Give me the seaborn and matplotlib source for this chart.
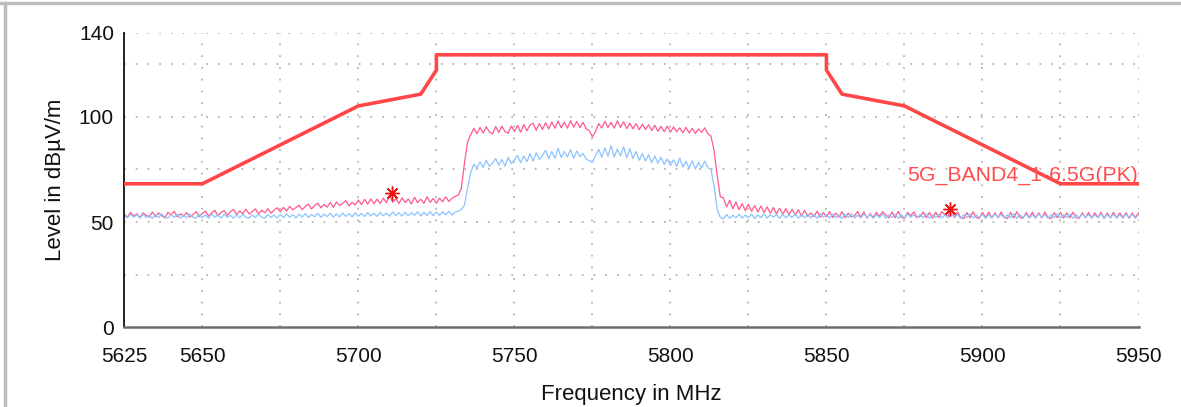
import numpy as np
import pandas as pd
import matplotlib
matplotlib.use("Agg")
import matplotlib.pyplot as plt
import seaborn as sns
from matplotlib.lines import Line2D

sns.set_theme(style="white")
plt.rcParams['font.family'] = ['Liberation Sans', 'DejaVu Sans']

# ---------------- data ----------------
freq_start = 5625
freq_step = 1  # MHz

pk_level = [
    53.8, 52.3, 54.6, 52.9, 53.9, 52.1, 54.4, 53.2, 52.4, 54.8,
    52.6, 54.3, 53.0, 52.0, 54.7, 53.4, 55.1, 52.5, 53.9, 52.8,
    54.5, 52.4, 53.6, 55.0, 52.6, 54.1, 55.2, 52.9, 54.4, 55.6,
    53.0, 54.6, 55.4, 53.2, 54.9, 56.0, 53.5, 55.3, 54.0, 56.2,
    53.8, 55.0, 56.3, 53.9, 55.6, 54.5, 56.4, 54.2, 55.7, 56.8,
    54.9, 57.0, 55.3, 57.5, 55.8, 56.9, 58.0, 55.9, 57.4, 58.6,
    56.2, 57.9, 59.0, 56.8, 58.4, 57.1, 59.3, 57.0, 59.6, 57.8,
    59.0, 60.2, 57.6, 59.4, 58.1, 60.5, 58.3, 60.8, 58.6, 61.0,
    58.7, 60.9, 58.9, 61.4, 59.2, 63.0, 59.4, 61.2, 58.8, 61.5,
    59.3, 61.0, 58.6, 61.8, 59.2, 60.9, 58.9, 62.0, 59.4, 61.2,
    59.0, 61.4, 59.6, 62.0, 59.8, 61.3, 62.2, 62.8, 66.0, 78.0,
    88.0, 91.5, 94.5, 92.0, 95.0, 92.3, 95.3, 92.8, 91.9, 95.4,
    92.6, 95.6, 93.0, 92.2, 95.7, 93.1, 96.0, 92.7, 96.4, 93.4,
    96.1, 97.0, 93.6, 96.8, 94.0, 97.2, 94.2, 97.6, 94.6, 98.0,
    94.8, 97.5, 94.6, 98.2, 95.1, 97.8, 94.9, 97.4, 94.3, 93.5,
    90.5, 93.0, 96.8, 94.7, 97.9, 95.0, 97.4, 94.6, 98.1, 95.0,
    97.6, 94.4, 97.0, 94.3, 96.8, 93.9, 96.5, 94.0, 96.2, 93.5,
    96.0, 93.2, 95.5, 93.0, 95.6, 92.7, 95.2, 92.9, 94.8, 92.4,
    95.0, 92.3, 94.6, 92.1, 94.3, 92.6, 94.8, 92.0, 90.8, 84.0,
    72.0, 62.0, 61.5, 57.2, 60.4, 56.3, 59.6, 55.9, 58.8, 55.4,
    58.5, 55.1, 57.9, 54.8, 57.6, 54.5, 57.2, 54.2, 56.9, 53.9,
    56.6, 53.7, 56.4, 53.5, 56.1, 53.2, 55.9, 52.8, 55.6, 52.7,
    54.4, 52.6, 55.2, 52.3, 54.5, 52.5, 55.0, 52.2, 54.3, 52.4,
    54.9, 52.1, 54.2, 52.5, 53.0, 55.1, 52.3, 54.8, 51.9, 54.0,
    52.2, 54.7, 52.8, 54.9, 53.4, 52.0, 54.8, 52.1, 55.1, 52.3,
    51.8, 54.6, 53.0, 54.9, 52.2, 52.7, 54.8, 52.1, 54.5, 51.9,
    54.7, 52.2, 55.0, 53.4, 52.8, 57.0, 52.0, 54.8, 52.2, 51.7,
    54.5, 52.0, 54.9, 52.2, 51.8, 54.6, 52.1, 54.7, 51.9, 54.4,
    52.0, 54.8, 52.2, 51.7, 54.6, 52.0, 54.9, 52.3, 51.8, 54.5,
    52.1, 54.7, 51.9, 54.4, 52.0, 54.8, 52.2, 51.7, 54.5, 52.1,
    54.6, 51.9, 54.4, 52.0, 54.7, 52.1, 51.8, 54.5, 52.0, 54.6,
    51.9, 54.4, 52.1, 54.7, 51.8, 54.3, 52.0, 54.6, 51.9, 54.4,
    52.0, 54.5, 51.8, 54.3, 52.1, 54.4,
]

av_level = [
    53.4, 52.0, 53.8, 52.3, 53.5, 51.9, 53.7, 52.2, 53.2, 51.8,
    53.6, 52.1, 53.9, 52.4, 51.9, 53.5, 52.2, 53.8, 51.8, 53.3,
    52.0, 53.7, 52.3, 51.9, 53.6, 52.1, 53.4, 51.8, 53.9, 52.2,
    53.5, 51.9, 53.7, 52.3, 53.2, 51.8, 53.6, 52.0, 53.8, 52.2,
    51.9, 53.5, 52.1, 53.7, 52.4, 51.8, 53.6, 52.2, 53.3, 51.9,
    53.7, 52.1, 53.9, 52.3, 53.5, 52.0, 53.8, 52.4, 54.0, 52.2,
    53.6, 52.5, 54.1, 52.3, 53.8, 52.6, 54.2, 52.4, 53.9, 52.5,
    54.3, 52.7, 54.0, 52.5, 54.4, 52.8, 54.1, 52.6, 54.5, 52.9,
    54.2, 52.7, 54.6, 53.0, 54.3, 52.8, 54.8, 53.1, 54.4, 52.9,
    54.7, 53.0, 54.5, 53.2, 54.9, 52.9, 54.6, 53.1, 55.0, 53.0,
    54.8, 53.2, 54.9, 53.4, 55.1, 53.3, 54.7, 55.2, 56.0, 58.0,
    66.0, 73.5, 77.5, 75.8, 78.6, 76.0, 79.4, 76.5, 78.0, 80.2,
    77.0, 79.8, 76.6, 80.8, 77.8, 79.5, 81.8, 78.2, 81.4, 78.6,
    82.5, 79.0, 83.0, 79.8, 81.6, 84.2, 80.1, 83.5, 80.4, 85.0,
    80.7, 83.6, 81.0, 84.4, 80.3, 83.8, 81.1, 82.6, 80.0, 79.2,
    78.5, 81.5, 84.6, 80.8, 85.2, 81.3, 86.4, 80.9, 84.7, 81.5,
    85.8, 80.6, 84.9, 80.2, 83.5, 79.4, 82.6, 79.0, 82.0, 78.3,
    81.5, 77.9, 80.8, 77.4, 80.0, 76.9, 79.6, 76.5, 80.4, 76.1,
    78.9, 75.6, 79.2, 75.3, 78.4, 75.7, 79.0, 75.8, 75.0, 67.0,
    56.0, 52.2, 51.5, 53.6, 51.8, 53.2, 52.0, 53.7, 51.9, 53.3,
    52.1, 53.8, 51.7, 53.4, 52.2, 53.9, 51.9, 53.5, 52.3, 53.6,
    51.8, 53.7, 52.0, 53.4, 52.2, 53.9, 51.9, 53.5, 52.1, 53.8,
    52.0, 53.6, 51.8, 53.9, 52.3, 53.5, 51.9, 53.8, 52.1, 53.4,
    51.7, 53.7, 52.2, 53.9, 51.9, 53.3, 52.0, 53.8, 52.3, 53.5,
    51.8, 53.6, 52.1, 53.9, 51.9, 53.4, 52.2, 53.7, 51.8, 53.5,
    52.0, 53.8, 52.3, 53.4, 51.9, 53.6, 52.1, 53.9, 51.8, 53.5,
    52.2, 53.7, 51.9, 53.4, 52.0, 53.8, 52.3, 53.6, 51.8, 53.5,
    52.1, 53.9, 51.9, 53.4, 52.2, 53.7, 51.8, 53.5, 52.0, 53.8,
    52.3, 53.6, 51.9, 53.4, 52.1, 53.9, 51.8, 53.5, 52.2, 53.7,
    51.9, 53.4, 52.0, 53.8, 52.3, 53.6, 51.8, 53.5, 52.1, 53.9,
    51.9, 53.4, 52.2, 53.7, 51.8, 53.5, 52.0, 53.8, 52.3, 53.6,
    51.9, 53.4, 52.1, 53.9, 51.8, 53.5, 52.2, 53.7, 51.9, 53.4,
    52.0, 53.8, 52.3, 53.6, 51.8, 53.5,
]

limit_freq = [5625, 5650, 5700, 5720, 5725, 5725, 5850, 5850, 5855, 5875, 5925, 5950]
limit_level = [68.2, 68.2, 105.2, 110.8, 122.2, 129.5, 129.5, 122.2, 110.8, 105.2, 68.2, 68.2]

marker_freq = [5710.7, 5889.5]
marker_level = [63.6, 56.4]

limit_name = "5G_BAND4_1-6.5G(PK)"

x_ticks = [5625, 5650, 5675, 5700, 5725, 5750, 5775, 5800, 5825, 5850, 5875, 5900, 5925, 5950]
x_tick_labels = ["5625", "5650", "", "5700", "", "5750", "", "5800", "", "5850", "", "5900", "", "5950"]
y_ticks_major = [0, 50, 100, 140]
y_ticks_minor = [25, 75, 125]

x_label = "Frequency in MHz"
y_label = "Level in dB\u00b5V/m"

# ---------------- build frames ----------------
freq = freq_start + freq_step * np.arange(len(pk_level))
df = pd.DataFrame({"freq": np.concatenate([freq, freq]),
                   "level": np.concatenate([pk_level, av_level]),
                   "trace": ["PK"] * len(pk_level) + ["AV"] * len(av_level)})
lim_df = pd.DataFrame({"freq": limit_freq, "level": limit_level})

# ---------------- plot ----------------
fig = plt.figure(figsize=(11.81, 4.07), dpi=100)
ax = fig.add_axes([124.3 / 1181, 1 - 327.3 / 407, (1138.5 - 124.3) / 1181, (327.3 - 32.7) / 407])

grid_kw = dict(color="#b4b4b4", linewidth=1.3, linestyle=(0, (1, 5.5)), zorder=0)
for xt in x_ticks[1:]:
    ax.axvline(xt, **grid_kw)
for yt in [25, 50, 75, 100, 125, 140]:
    ax.axhline(yt, **grid_kw)

sns.lineplot(data=df, x="freq", y="level", hue="trace", hue_order=["PK", "AV"],
             palette={"PK": "#ff5a8c", "AV": "#8cc3ff"}, linewidth=0.9,
             estimator=None, sort=False, legend=False, ax=ax, zorder=2)
sns.lineplot(data=lim_df, x="freq", y="level", color="#ff4747", linewidth=2.6,
             estimator=None, sort=False, legend=False, ax=ax, zorder=3)
ax.plot(marker_freq, marker_level, linestyle="none", marker=(8, 2, 0),
        markersize=10, markeredgewidth=1.0, color="#ee1111", zorder=4)

ax.text(5950, 69.8, limit_name, color="#ff4d4d", fontsize=15.3, ha="right", va="baseline", zorder=3)

ax.set_xlim(5625, 5950)
ax.set_ylim(0, 140)
ax.set_xticks(x_ticks)
ax.set_xticklabels(x_tick_labels)
ax.set_yticks(y_ticks_major)
ax.set_yticks(y_ticks_minor, minor=True)

ax.tick_params(axis="x", which="major", direction="inout", length=11, width=1.2,
               color="#222222", labelsize=15, pad=9, labelcolor="#111111")
ax.tick_params(axis="y", which="major", direction="inout", length=11, width=1.2,
               color="#222222", labelsize=15, pad=2, labelcolor="#111111")
ax.tick_params(axis="y", which="minor", direction="inout", length=11, width=1.2, color="#222222")

for s in ["top", "right"]:
    ax.spines[s].set_visible(False)
ax.spines["left"].set_color("#111111")
ax.spines["left"].set_linewidth(1.3)
ax.spines["bottom"].set_color("#6e6e6e")
ax.spines["bottom"].set_linewidth(1.8)

ax.set_xlabel(x_label, fontsize=16, labelpad=13, color="#111111")
ax.set_ylabel(y_label, fontsize=16, labelpad=9, color="#111111")

# outer frame lines
fig.add_artist(Line2D([0, 1], [1 - 2.5 / 407, 1 - 2.5 / 407], transform=fig.transFigure,
                      color="#bdbdbd", linewidth=2.5))
fig.add_artist(Line2D([5 / 1181, 5 / 1181], [0, 1 - 2.5 / 407], transform=fig.transFigure,
                      color="#bdbdbd", linewidth=2.5))

fig.savefig("out.png", dpi=100)
